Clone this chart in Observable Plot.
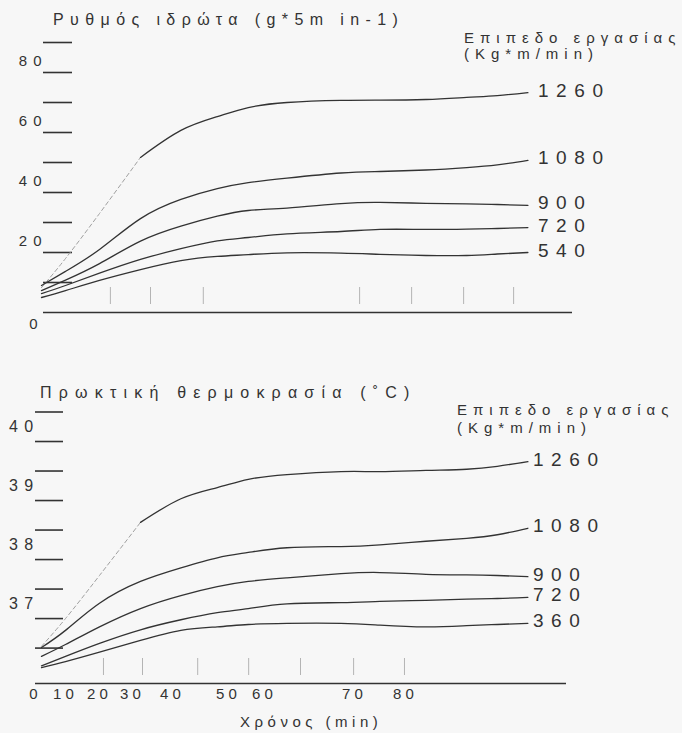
<!DOCTYPE html>
<html>
<head>
<meta charset="utf-8">
<script src="https://cdn.jsdelivr.net/npm/d3@7"></script>
<script src="https://cdn.jsdelivr.net/npm/@observablehq/plot@0.6"></script>
<style>
  body { margin: 0; background: #f7f7f7; }
  #chart { position: relative; width: 682px; height: 733px; overflow: hidden;
           font-family: "Liberation Sans", Arial, sans-serif; color: #333; }
  #chart .panel { position: absolute; left: 0; }
  #chart .note { position: absolute; white-space: nowrap; line-height: 1; letter-spacing: 0.4em; }
  #chart svg text { letter-spacing: 0.4em; }
  #chart g[aria-label="x-axis tick label"] text { letter-spacing: 0.28em; }
</style>
</head>
<body>
<div id="chart">
  <div class="panel" id="sweat" style="top:0"></div>
  <div class="panel" id="temp" style="top:345px"></div>
  <div class="note" style="left:53px;top:12px;font-size:16px">Ρυθμός ιδρώτα (g*5m in-1)</div>
  <div class="note" style="left:464px;top:30px;font-size:15px">Επιπεδο εργασίας</div>
  <div class="note" style="left:464px;top:46px;font-size:15px">(Kg*m/min)</div>
  <div class="note" style="left:40px;top:385px;font-size:16px;letter-spacing:0.45em">Πρωκτική θερμοκρασία (˚C)</div>
  <div class="note" style="left:457px;top:402px;font-size:15px">Επιπεδο εργασίας</div>
  <div class="note" style="left:457px;top:420px;font-size:15px">(Kg*m/min)</div>
  <div class="note" style="left:240px;top:714px;font-size:15px;letter-spacing:0.3em">Χρόνος (min)</div>
</div>
<script>
// Time since the start of exercise (min), shared by every curve
const minutes = [2, 10, 20, 32, 41.5, 48, 55.5, 62.5, 68.5, 75, 84, 92, 98, 104];

// Sweat rate (g*5min-1) for each work level (Kg*m/min)
const sweatLevels = ["1260", "1080", "900", "720", "540"];
const sweat1260 = [8.3, 18, 33, 51.7, 60.7, 65.3, 68.3, 70.0, 70.7, 70.8, 71.0, 71.7, 72.3, 73.3];
const sweat1080 = [9.0, 13.7, 21.0, 31.3, 37.7, 41.3, 43.3, 44.8, 46.5, 47.0, 47.5, 48.3, 49.2, 50.7];
const sweat900  = [7.3, 10.8, 16.3, 23.8, 28.8, 32.1, 34.0, 34.8, 36.3, 36.7, 36.4, 36.2, 36.0, 35.7];
const sweat720  = [6.3, 9.0, 13.1, 17.7, 21.3, 23.9, 25.0, 26.2, 27.0, 27.7, 27.7, 27.8, 28.0, 28.3];
const sweat540  = [5.0, 7.3, 10.7, 14.3, 17.3, 18.7, 19.3, 19.9, 19.8, 19.4, 19.0, 19.0, 19.5, 20.0];

// Rectal temperature (°C) for each work level (Kg*m/min)
const tempLevels = ["1260", "1080", "900", "720", "360"];
const temp1260 = [36.53, 37.0, 37.73, 38.63, 39.03, 39.22, 39.36, 39.44, 39.49, 39.49, 39.51, 39.53, 39.58, 39.66];
const temp1080 = [36.51, 36.8, 37.26, 37.63, 37.86, 38.03, 38.12, 38.2, 38.22, 38.25, 38.31, 38.36, 38.42, 38.53];
const temp900  = [36.36, 36.56, 36.86, 37.17, 37.39, 37.54, 37.63, 37.69, 37.76, 37.78, 37.75, 37.74, 37.73, 37.71];
const temp720  = [36.2, 36.36, 36.58, 36.81, 36.98, 37.1, 37.17, 37.25, 37.27, 37.29, 37.31, 37.33, 37.34, 37.36];
const temp360  = [36.17, 36.27, 36.43, 36.63, 36.8, 36.86, 36.9, 36.92, 36.92, 36.89, 36.86, 36.88, 36.9, 36.92];

// The steepest curve is only sketched (dashed) up to this time
const sketchedUntil = 32;

// Axis ticks and labels
const timeTicks = [0, 10, 20, 30, 40, 50, 60, 70, 80];
const sweatTicks = [10, 20, 30, 40, 50, 60, 70, 80, 90];
const sweatLabels = [20, 40, 60, 80];
const sweatFloor = 0;
const sweatTop = 90;
const tempTicks = [36.5, 37, 37.5, 38, 38.5, 39, 39.5, 40, 40.5];
const tempLabels = [37, 38, 39, 40];
const tempFloor = 35.9;
const tempTop = 40.5;
// Minutes at which the short guide marks above each baseline are drawn
const sweatGuides = [23.3, 34.5, 45.5, 71, 81.2, 91.4, 101.2];
const tempGuides = [21.2, 32.5, 44.5, 55.6, 64, 69.9, 79.8];

function rows(levels, columns) {
  return levels.flatMap((level, i) =>
    minutes.map((t, j) => ({level, t, v: columns[i][j]})));
}
const sweatRows = rows(sweatLevels, [sweat1260, sweat1080, sweat900, sweat720, sweat540]);
const tempRows = rows(tempLevels, [temp1260, temp1080, temp900, temp720, temp360]);

// The printed time axis is unevenly spaced: warp minutes piecewise between its labels
const printedAxis = d3.scaleLinear()
  .domain(timeTicks)
  .range([35, 65, 99, 132, 172, 228, 264, 354, 405]);
const timeScale = {type: "linear", transform: t => printedAxis(t), domain: [0, 682], range: [0, 682]};

const ink = "#333";
const whole = d3.format("d");

function panel({data, ticks, labels, floor, ceil, guides, tickLen, labelDy, labelSize,
                marginTop, marginBottom, marginLeft, marginRight, height, labelDx, extra}) {
  const steep = data.filter(d => d.level === "1260");
  const solid = data.filter(d => d.level !== "1260" || d.t >= sketchedUntil);
  const sketch = steep.filter(d => d.t <= sketchedUntil);
  const ends = d3.groups(data, d => d.level).map(([, g]) => g[g.length - 1]);
  return Plot.plot({
    width: 682, height, marginTop, marginBottom, marginLeft, marginRight,
    style: {background: "transparent", color: ink, fontFamily: "Liberation Sans, Arial, sans-serif"},
    x: timeScale,
    y: {domain: [floor, ceil]},
    marks: [
      Plot.ruleY([floor], {stroke: ink, strokeWidth: 1.6}),
      Plot.axisY(ticks, {anchor: "left", tickSize: -tickLen, tickFormat: () => "", label: null,
                         stroke: ink, strokeWidth: 1.6}),
      Plot.axisY(labels, {anchor: "left", tickSize: 0, tickPadding: 0, dx: 4, dy: labelDy,
                          tickFormat: whole, fontSize: labelSize, label: null, fill: ink}),
      Plot.axisX(guides, {anchor: "bottom", tickSize: -17, tickFormat: () => "", label: null,
                          dy: -8, stroke: "#b4b4b4", strokeWidth: 1}),
      ...extra,
      Plot.line(sketch, {x: "t", y: "v", stroke: "#a0a0a0", strokeWidth: 1,
                         strokeDasharray: "4,3", curve: "natural"}),
      Plot.line(solid, {x: "t", y: "v", z: "level", stroke: ink, strokeWidth: 1.3,
                        curve: "natural"}),
      Plot.text(ends, {x: "t", y: "v", text: "level", textAnchor: "start", dx: labelDx, dy: -2,
                       fontSize: 19, fill: ink})
    ]
  });
}

document.getElementById("sweat").append(panel({
  data: sweatRows, ticks: sweatTicks, labels: sweatLabels, floor: sweatFloor, ceil: sweatTop,
  guides: sweatGuides, tickLen: 29, labelDy: -11, labelSize: 15,
  height: 345, marginTop: 42, marginBottom: 33, marginLeft: 43, marginRight: 110, labelDx: 10,
  extra: [
    // zero sits below the baseline
    Plot.axisY([sweatFloor], {anchor: "left", tickSize: 0, tickPadding: 0, dx: 0, dy: 12,
                              tickFormat: whole, fontSize: 15, label: null, fill: ink})
  ]
}));

document.getElementById("temp").append(panel({
  data: tempRows, ticks: tempTicks, labels: tempLabels, floor: tempFloor, ceil: tempTop,
  guides: tempGuides, tickLen: 28, labelDy: -15, labelSize: 16,
  height: 388, marginTop: 66.5, marginBottom: 50, marginLeft: 35, marginRight: 116, labelDx: 5,
  extra: [
    Plot.axisX(timeTicks, {anchor: "bottom", tickSize: 0, tickPadding: 5, fontSize: 15,
                           tickFormat: whole, label: null, fill: ink})
  ]
}));
</script>
</body>
</html>
